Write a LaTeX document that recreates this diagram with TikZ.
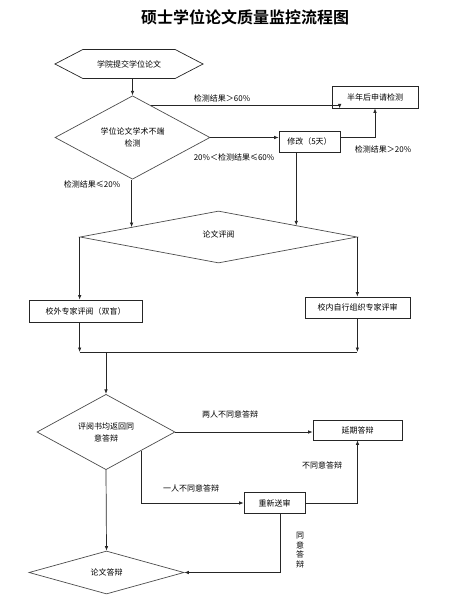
\documentclass[tikz,border=0pt]{standalone}
\usepackage{fontspec}
\setmainfont{Noto Sans CJK SC}[BoldFont={Noto Sans CJK SC Bold}]
\usepackage{tikz}
\usetikzlibrary{positioning,arrows.meta,calc,shapes.geometric,shapes.symbols}

\begin{document}
\begin{tikzpicture}[
  x=1pt, y=-1pt,
  font=\fontsize{8}{10}\selectfont,
  box/.style={draw=black!85, line width=0.7pt, inner sep=1pt, align=center},
  hexbox/.style={draw=black!85, line width=0.7pt, signal, signal to=west and east, signal pointer angle=55, inner sep=1pt, minimum width=148pt, minimum height=29pt},
  decision/.style={draw=black!70, line width=0.7pt, diamond, inner sep=0pt, align=center},
  lbl/.style={inner sep=0pt, align=center},
  arr/.style={-{Latex[length=4.5pt,width=3.5pt]}, line width=0.7pt, draw=black!85},
  ln/.style={line width=0.7pt, draw=black!85},
  ]
  \useasboundingbox (0,0) rectangle (472,610);
  \node[font=\fontsize{16}{18}\selectfont\bfseries] (title) at (245,17) {硕士学位论文质量监控流程图};

  % Plagiarism check
  \node[hexbox] (start) at (129,64) {学院提交学位论文};
  \node[decision, minimum width=155pt, minimum height=59pt] (d1) at (132.5,137.5) {学位论文学术不端\\[2pt]检测};
  \node[box, minimum width=86pt, minimum height=22pt] (half) at (375,97) {半年后申请检测};
  \node[box, minimum width=61pt, minimum height=21pt] (revise) at (309.5,141.5) {修改（5天）};

  \node[lbl] (l60) at (222,98) {检测结果＞60\%};
  \node[lbl] (l2060) at (234,157) {20\%＜检测结果≤60\%};
  \node[lbl] (l20up) at (383,149) {检测结果＞20\%};
  \node[lbl] (l20) at (92,184) {检测结果≤20\%};

  % Review
  \node[decision, minimum width=277pt, minimum height=52pt] (d2) at (218.5,237) {};
  \node[lbl] (d2txt) at (218.5,234) {论文评阅};
  \node[box, minimum width=113pt, minimum height=22pt] (ext) at (85.5,311) {校外专家评阅（双盲）};
  \node[box, minimum width=105pt, minimum height=21pt] (int) at (357.5,307.5) {校内自行组织专家评审};

  % Defence
  \node[decision, minimum width=138pt, minimum height=58pt] (d3) at (106,432) {评阅书均返回同\\[2pt]意答辩};
  \node[box, minimum width=89pt, minimum height=20pt] (delay) at (357.5,430) {延期答辩};
  \node[box, minimum width=61pt, minimum height=21pt] (resend) at (274.5,503) {重新送审};
  \node[decision, minimum width=155pt, minimum height=43pt] (d4) at (106.5,572.5) {论文答辩};

  \node[lbl] (ltwo) at (230,414) {两人不同意答辩};
  \node[lbl] (lno) at (322,465) {不同意答辩};
  \node[lbl] (lone) at (191,488) {一人不同意答辩};
  \node[lbl, font=\fontsize{8}{9.5}\selectfont] (lyes) at (300,550) {同\\意\\答\\辩};

  % Helper points
  \coordinate (d1ne) at ($(d1.north)!0.24!(d1.east)$);
  \coordinate (d2ne) at ($(d2.north)!0.56!(d2.east)$);
  \coordinate (d2nw) at ($(d2.west)!0.374!(d2.north)$);
  \coordinate (d3se) at ($(d3.east)!0.49!(d3.south)$);
  \coordinate (merge) at (0,352);
  \coordinate (upin) at ($(half.south west)+(8,0)$);
  \coordinate (rsdown) at ($(resend.south)+(5.5,0)$);

  % Arrows
  \draw[arr] (d1.north |- start.south) -- (d1.north);
  \draw[arr] (d1ne) -| (upin);
  \draw[arr] (d1.east) -- (d1.east -| revise.west);
  \draw[arr] (d1.east -| revise.east) -| (half.south);
  \draw[arr] (d2ne |- revise.south) -- (d2ne);
  \draw[arr] (d2nw |- d1.south) -- (d2nw);

  \draw[arr] (d2.west) -- (d2.west |- ext.north);
  \draw[arr] (d2.east) -- (d2.east |- int.north);
  \draw[arr] (d2.west |- ext.south) -- (d2.west |- merge);
  \draw[arr] (d2.east |- int.south) -- (d2.east |- merge);
  \draw[ln] (d2.west |- merge) -- (d2.east |- merge);
  \draw[arr] (d3.north |- merge) -- (d3.north);

  \draw[arr] (d3.east) -- (d3.east -| delay.west);
  \draw[arr] (d3se) |- (resend.west);
  \draw[arr] (resend.east) -| (delay.south);
  \draw[arr] (rsdown) |- (d4.east);
  \draw[arr] (d3.south) -- (d4.north);
\end{tikzpicture}
\end{document}
